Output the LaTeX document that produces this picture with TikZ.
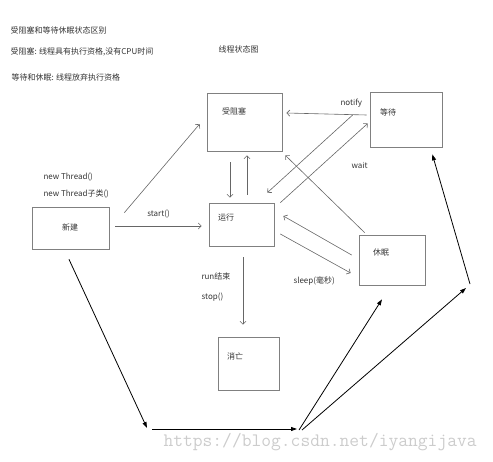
\documentclass[tikz,border=0pt]{standalone}
\usepackage{fontspec}
\setmainfont{Noto Sans CJK SC}
\usetikzlibrary{arrows.meta}

\begin{document}
\begin{tikzpicture}[x=1pt, y=-1pt,
    every node/.style={font=\fontsize{8}{10}\selectfont, text=black!80},
    statebox/.style={draw=black!50, line width=0.7pt, inner sep=0pt},
    grayarrow/.style={draw=black!60, line width=0.6pt, -{Straight Barb[length=3pt, width=6pt]}},
    blackarrow/.style={draw=black, line width=0.8pt, -{Triangle[length=6pt, width=4pt]}}]
    \useasboundingbox (0,0) rectangle (493,461);

    \node[anchor=west] (title) at (7,30) {受阻塞和等待休眠状态区别};
    \node[anchor=west] (noteblocked) at (7,52) {受阻塞: 线程具有执行资格,没有CPU时间};
    \node[anchor=west] (notewait) at (8,77) {等待和休眠: 线程放弃执行资格};
    \node[anchor=west] (heading) at (215,49) {线程状态图};

    \node[statebox, minimum width=75pt, minimum height=58pt, label={[anchor=west, xshift=12pt, yshift=-19pt]north west:受阻塞}] (blocked) at (244.5,122) {};
    \node[statebox, minimum width=72pt, minimum height=55pt, label={[anchor=west, xshift=7pt, yshift=-21pt]north west:等待}] (waiting) at (406,119.5) {};
    \node[statebox, minimum width=65pt, minimum height=43pt, label={[anchor=west, xshift=6pt, yshift=-15pt]north west:运行}] (running) at (241.5,224.5) {};
    \node[statebox, minimum width=66pt, minimum height=50pt, label={[anchor=west, xshift=11pt, yshift=-18pt]north west:休眠}] (sleeping) at (392,260) {};
    \node[statebox, minimum width=77pt, minimum height=42pt, label={[anchor=west, xshift=27pt, yshift=-21pt]north west:新建}] (new) at (70.5,228) {};
    \node[statebox, minimum width=61pt, minimum height=53pt, label={[anchor=west, xshift=6pt, yshift=-20pt]north west:消亡}] (dead) at (248.5,363.5) {};

    \node[anchor=west, align=left, font=\fontsize{8}{17}\selectfont] (newtext) at (40,185.5) {new Thread()\\new Thread子类()};
    \node[anchor=west, align=left, font=\fontsize{8}{20}\selectfont] (endtext) at (198,287) {run结束\\stop()};
    \node[anchor=west] (notifytext) at (337,103) {notify};
    \node[anchor=west] (waittext) at (348,165) {wait};
    \node[anchor=west] (sleeptext) at (290,281) {sleep(毫秒)};

    \draw[grayarrow] ([shift={(15,6)}]new.north east) -- ([shift={(-7,2)}]blocked.west);
    \draw[grayarrow] ([shift={(6,-2)}]new.east) -- node[above=4pt]{start()} ([shift={(-7,1.5)}]running.west);
    \draw[grayarrow] ([shift={(-14.5,11)}]blocked.south) -- ([shift={(-11.5,-5)}]running.north);
    \draw[grayarrow] ([shift={(5.5,-8)}]running.north) -- ([shift={(2.5,4)}]blocked.south);
    \draw[grayarrow] ([shift={(-3,-4.5)}]waiting.west) -- ([shift={(4,-9)}]blocked.east);
    \draw[grayarrow] ([shift={(-17,-4.5)}]waiting.west) -- ([shift={(-7,-10)}]running.north east);
    \draw[grayarrow] ([shift={(6,0)}]running.north east) -- ([shift={(-2,4)}]waiting.west);
    \draw[grayarrow] ([shift={(6,-2)}]sleeping.north west) -- ([shift={(3,4)}]blocked.south east);
    \draw[grayarrow] ([shift={(-7,-5)}]sleeping.west) -- ([shift={(9,-8.5)}]running.east);
    \draw[grayarrow] ([shift={(6,9.5)}]running.east) -- ([shift={(-8,13)}]sleeping.west);
    \draw[grayarrow] ([shift={(1.5,11)}]running.south) -- ([shift={(-5.5,-12)}]dead.north);

    \coordinate (bottomleft) at (147,428);
    \coordinate (bottomright) at (299,430);
    \coordinate (farright) at (470,284);

    \draw[blackarrow] ([shift={(-1.5,10)}]new.south) -- (bottomleft);
    \draw[blackarrow] ([shift={(5,1)}]bottomleft) -- ([shift={(-2,-1)}]bottomright);
    \draw[blackarrow] (bottomright) -- ([shift={(-10,14)}]sleeping.south);
    \draw[blackarrow] ([shift={(3,0)}]bottomright) -- ([shift={(-4,4)}]farright);
    \draw[blackarrow] (farright) -- ([shift={(-10,7)}]waiting.south east);

    \node[anchor=west, font=\ttfamily\fontsize{19}{19}\selectfont, text=black!20] (watermark) at (160,442) {https://blog.csdn.net/iyangijava};
\end{tikzpicture}
\end{document}
